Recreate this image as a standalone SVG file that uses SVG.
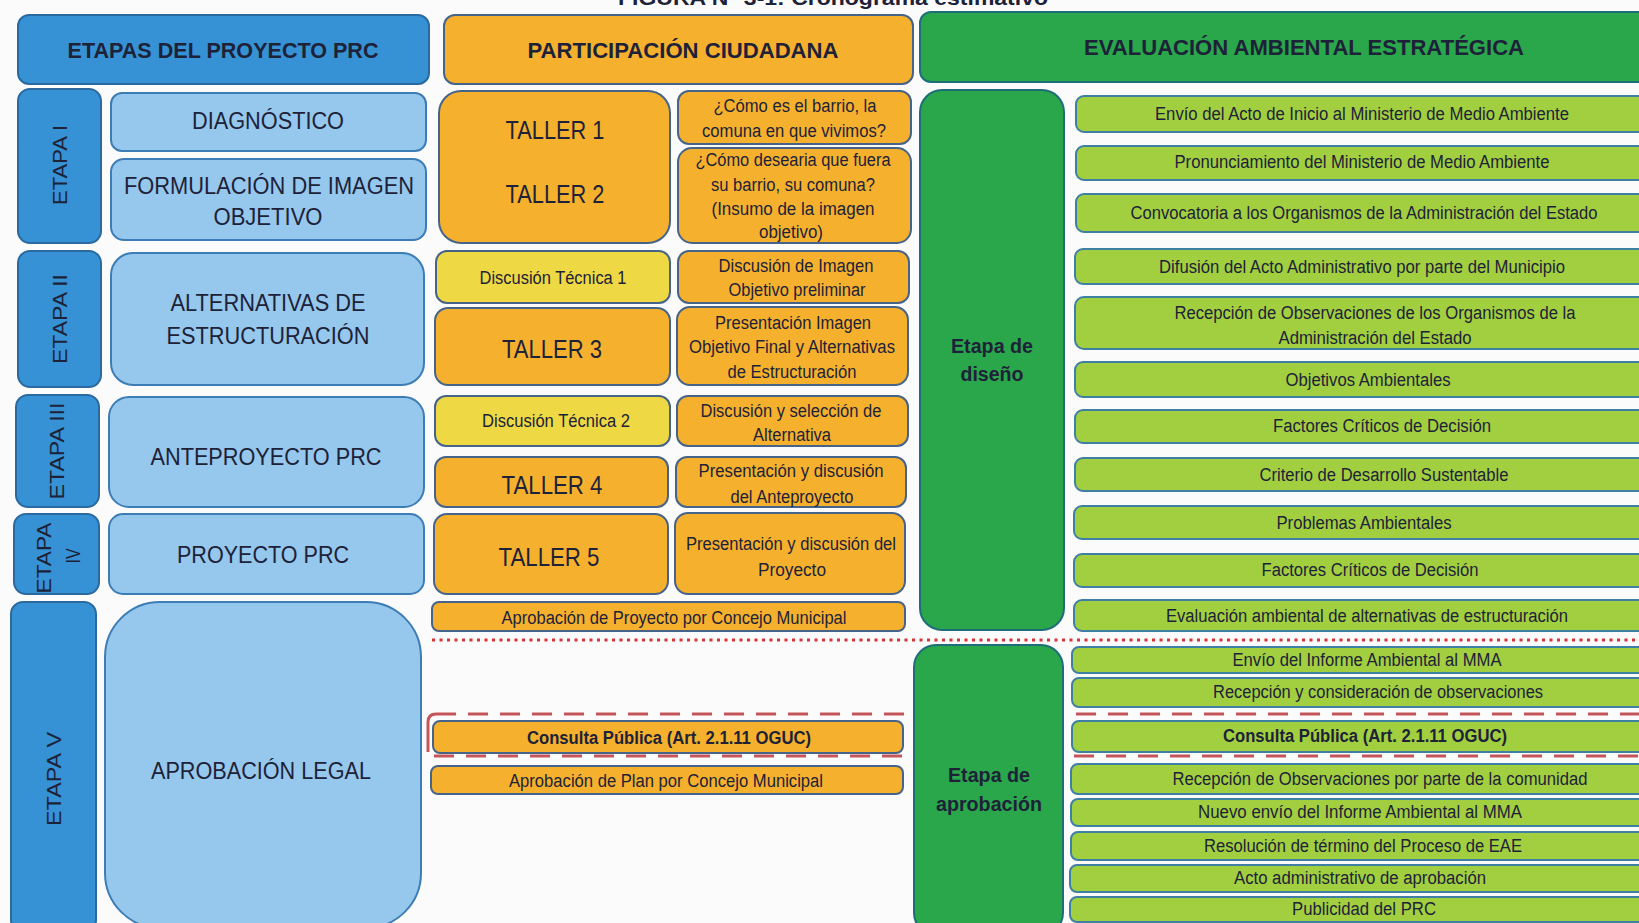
<svg xmlns="http://www.w3.org/2000/svg" width="1639" height="923" viewBox="0 0 1639 923">
<style>
.bg{fill:#fbfbfb}
.hb{fill:#3692d4;stroke:#2b6aa0;stroke-width:2}
.et{fill:#3692d4;stroke:#2b6aa0;stroke-width:2}
.lb{fill:#96c7ec;stroke:#3d7db6;stroke-width:2}
.or{fill:#f5b12d;stroke:#46648a;stroke-width:2}
.ye{fill:#eed944;stroke:#46648a;stroke-width:2}
.gr{fill:#2aa64b;stroke:#1e6e7a;stroke-width:2}
.lg{fill:#a2cf3f;stroke:#3e7fa4;stroke-width:2}
text{font-family:"Liberation Sans Narrow","Liberation Sans",Arial,sans-serif;fill:#1d2238;text-anchor:middle}
.h{font-size:22px;font-weight:bold}
.b{font-size:23px}
.tl{font-size:25px}
.s{font-size:18px}
.sb{font-size:18px;font-weight:bold}
.gb{font-size:20px;font-weight:bold}
.v{font-size:21px}
.dot{fill:none;stroke:#d3343a;stroke-width:3;stroke-dasharray:3 4.5}
.dash{fill:none;stroke:#c4565a;stroke-width:3;stroke-dasharray:20 12}
.brk{fill:none;stroke:#c4565a;stroke-width:3}
</style>
<rect class="bg" x="0" y="0" width="1639" height="923"/>
<text x="833" y="5" style="font-size:20px;font-weight:bold" textLength="430" lengthAdjust="spacingAndGlyphs">FIGURA N° 3-1: Cronograma estimativo</text>

<g id="connectors">
<line class="dot" x1="432" y1="640" x2="1639" y2="640"/>
<path class="brk" d="M428,752 L428,722 Q428,714 436,714"/>
<line class="dash" x1="436" y1="714" x2="1639" y2="714"/>
<line class="dash" x1="434" y1="756" x2="1639" y2="756"/>
</g>

<!-- Column 1 -->
<g id="hdr-etapas"><rect class="hb" x="18" y="15" width="411" height="69" rx="11"/><text class="h" x="223" y="58" textLength="311" lengthAdjust="spacingAndGlyphs">ETAPAS DEL PROYECTO PRC</text></g>
<g id="etapa1"><rect class="et" x="18" y="89" width="83" height="154" rx="12"/><text class="v" transform="translate(60,165) rotate(-90)" x="0" y="7" textLength="80" lengthAdjust="spacingAndGlyphs">ETAPA I</text></g>
<g id="diagnostico"><rect class="lb" x="111" y="93" width="315" height="58" rx="11"/><text class="b" x="268" y="129" textLength="152" lengthAdjust="spacingAndGlyphs">DIAGNÓSTICO</text></g>
<g id="formulacion"><rect class="lb" x="111" y="159" width="315" height="81" rx="13"/><text class="b" x="269" y="194" textLength="290" lengthAdjust="spacingAndGlyphs">FORMULACIÓN DE IMAGEN</text><text class="b" x="268" y="225" textLength="109" lengthAdjust="spacingAndGlyphs">OBJETIVO</text></g>
<g id="etapa2"><rect class="et" x="18" y="251" width="83" height="136" rx="12"/><text class="v" transform="translate(60,319) rotate(-90)" x="0" y="7" textLength="90" lengthAdjust="spacingAndGlyphs">ETAPA II</text></g>
<g id="alternativas"><rect class="lb" x="111" y="253" width="313" height="132" rx="22"/><text class="b" x="268" y="311" textLength="195" lengthAdjust="spacingAndGlyphs">ALTERNATIVAS DE</text><text class="b" x="268" y="344" textLength="203" lengthAdjust="spacingAndGlyphs">ESTRUCTURACIÓN</text></g>
<g id="etapa3"><rect class="et" x="16" y="395" width="83" height="112" rx="12"/><text class="v" transform="translate(57,451) rotate(-90)" x="0" y="7" textLength="97" lengthAdjust="spacingAndGlyphs">ETAPA III</text></g>
<g id="anteproyecto"><rect class="lb" x="109" y="397" width="315" height="110" rx="20"/><text class="b" x="266" y="465" textLength="231" lengthAdjust="spacingAndGlyphs">ANTEPROYECTO PRC</text></g>
<g id="etapa4"><rect class="et" x="14" y="514" width="85" height="80" rx="12"/><text class="v" transform="translate(44,558) rotate(-90)" x="0" y="7" textLength="71" lengthAdjust="spacingAndGlyphs">ETAPA</text><text class="v" transform="translate(73,556) rotate(-90)" x="0" y="7" textLength="15" lengthAdjust="spacingAndGlyphs">IV</text></g>
<g id="proyecto"><rect class="lb" x="109" y="514" width="315" height="80" rx="14"/><text class="b" x="263" y="563" textLength="172" lengthAdjust="spacingAndGlyphs">PROYECTO PRC</text></g>
<g id="etapa5"><rect class="et" x="11" y="602" width="85" height="330" rx="12"/><text class="v" transform="translate(54,779) rotate(-90)" x="0" y="7" textLength="94" lengthAdjust="spacingAndGlyphs">ETAPA V</text></g>
<g id="aprobacion-legal"><rect class="lb" x="105" y="602" width="316" height="326" rx="55"/><text class="b" x="261" y="779" textLength="220" lengthAdjust="spacingAndGlyphs">APROBACIÓN LEGAL</text></g>

<!-- Column 2 -->
<g id="hdr-participacion"><rect class="or" x="444" y="15" width="469" height="69" rx="11"/><text class="h" x="683" y="58" textLength="311" lengthAdjust="spacingAndGlyphs">PARTICIPACIÓN CIUDADANA</text></g>
<g id="taller12"><rect class="or" x="439" y="91" width="231" height="152" rx="22"/><text class="tl" x="555" y="139" textLength="99" lengthAdjust="spacingAndGlyphs">TALLER 1</text><text class="tl" x="555" y="203" textLength="99" lengthAdjust="spacingAndGlyphs">TALLER 2</text></g>
<g id="como-es"><rect class="or" x="678" y="91" width="233" height="53" rx="11"/><text class="s" x="795" y="112" textLength="163" lengthAdjust="spacingAndGlyphs">¿Cómo es el barrio, la</text><text class="s" x="794" y="137" textLength="184" lengthAdjust="spacingAndGlyphs">comuna en que vivimos?</text></g>
<g id="como-desearia"><rect class="or" x="678" y="148" width="233" height="95" rx="14"/><text class="s" x="793" y="166" textLength="195" lengthAdjust="spacingAndGlyphs">¿Cómo desearia que fuera</text><text class="s" x="793" y="191" textLength="164" lengthAdjust="spacingAndGlyphs">su barrio, su comuna?</text><text class="s" x="793" y="215" textLength="163" lengthAdjust="spacingAndGlyphs">(Insumo de  la imagen</text><text class="s" x="791" y="238" textLength="64" lengthAdjust="spacingAndGlyphs">objetivo)</text></g>
<g id="disc-tec1"><rect class="ye" x="436" y="251" width="234" height="52" rx="11"/><text class="s" x="553" y="284" textLength="147" lengthAdjust="spacingAndGlyphs">Discusión Técnica 1</text></g>
<g id="disc-imagen"><rect class="or" x="678" y="251" width="231" height="52" rx="11"/><text class="s" x="796" y="272" textLength="155" lengthAdjust="spacingAndGlyphs">Discusión de Imagen</text><text class="s" x="797" y="296" textLength="137" lengthAdjust="spacingAndGlyphs">Objetivo preliminar</text></g>
<g id="taller3"><rect class="or" x="435" y="308" width="235" height="77" rx="13"/><text class="tl" x="552" y="358" textLength="100" lengthAdjust="spacingAndGlyphs">TALLER 3</text></g>
<g id="presentacion-imagen"><rect class="or" x="677" y="307" width="231" height="78" rx="13"/><text class="s" x="793" y="329" textLength="156" lengthAdjust="spacingAndGlyphs">Presentación Imagen</text><text class="s" x="792" y="353" textLength="206" lengthAdjust="spacingAndGlyphs">Objetivo Final y Alternativas</text><text class="s" x="792" y="378" textLength="129" lengthAdjust="spacingAndGlyphs">de Estructuración</text></g>
<g id="disc-tec2"><rect class="ye" x="435" y="396" width="235" height="50" rx="11"/><text class="s" x="556" y="427" textLength="148" lengthAdjust="spacingAndGlyphs">Discusión Técnica 2</text></g>
<g id="disc-seleccion"><rect class="or" x="677" y="396" width="231" height="50" rx="11"/><text class="s" x="791" y="417" textLength="181" lengthAdjust="spacingAndGlyphs">Discusión y selección de</text><text class="s" x="792" y="441" textLength="78" lengthAdjust="spacingAndGlyphs">Alternativa</text></g>
<g id="taller4"><rect class="or" x="435" y="457" width="233" height="50" rx="11"/><text class="tl" x="552" y="494" textLength="101" lengthAdjust="spacingAndGlyphs">TALLER 4</text></g>
<g id="pres-anteproyecto"><rect class="or" x="676" y="457" width="230" height="50" rx="11"/><text class="s" x="791" y="477" textLength="185" lengthAdjust="spacingAndGlyphs">Presentación y discusión</text><text class="s" x="792" y="503" textLength="123" lengthAdjust="spacingAndGlyphs">del Anteproyecto</text></g>
<g id="taller5"><rect class="or" x="434" y="514" width="234" height="80" rx="13"/><text class="tl" x="549" y="566" textLength="101" lengthAdjust="spacingAndGlyphs">TALLER 5</text></g>
<g id="pres-proyecto"><rect class="or" x="675" y="513" width="230" height="81" rx="13"/><text class="s" x="791" y="550" textLength="210" lengthAdjust="spacingAndGlyphs">Presentación y discusión del</text><text class="s" x="792" y="576" textLength="68" lengthAdjust="spacingAndGlyphs">Proyecto</text></g>
<g id="aprob-proyecto"><rect class="or" x="432" y="602" width="473" height="29" rx="7"/><text class="s" x="674" y="624" textLength="345" lengthAdjust="spacingAndGlyphs">Aprobación de Proyecto por Concejo Municipal</text></g>
<g id="consulta-pc"><rect class="or" x="433" y="721" width="470" height="32" rx="7"/><text class="sb" x="669" y="744" textLength="284" lengthAdjust="spacingAndGlyphs">Consulta Pública (Art. 2.1.11 OGUC)</text></g>
<g id="aprob-plan"><rect class="or" x="431" y="766" width="472" height="28" rx="7"/><text class="s" x="666" y="787" textLength="314" lengthAdjust="spacingAndGlyphs">Aprobación de Plan por Concejo Municipal</text></g>

<!-- Column 3 -->
<g id="hdr-eae"><rect class="gr" x="920" y="12" width="740" height="70" rx="11"/><text class="h" x="1304" y="55" textLength="440" lengthAdjust="spacingAndGlyphs">EVALUACIÓN AMBIENTAL ESTRATÉGICA</text></g>
<g id="etapa-diseno"><rect class="gr" x="920" y="90" width="144" height="540" rx="22"/><text class="gb" x="992" y="353" textLength="82" lengthAdjust="spacingAndGlyphs">Etapa de</text><text class="gb" x="992" y="381" textLength="63" lengthAdjust="spacingAndGlyphs">diseño</text></g>
<g id="etapa-aprobacion"><rect class="gr" x="914" y="645" width="149" height="290" rx="22"/><text class="gb" x="989" y="782" textLength="82" lengthAdjust="spacingAndGlyphs">Etapa de</text><text class="gb" x="989" y="811" textLength="106" lengthAdjust="spacingAndGlyphs">aprobación</text></g>

<g id="r01"><rect class="lg" x="1076" y="96" width="590" height="36" rx="8"/><text class="s" x="1362" y="120" textLength="414" lengthAdjust="spacingAndGlyphs">Envío del Acto de Inicio al Ministerio de Medio Ambiente</text></g>
<g id="r02"><rect class="lg" x="1076" y="146" width="590" height="34" rx="8"/><text class="s" x="1362" y="168" textLength="375" lengthAdjust="spacingAndGlyphs">Pronunciamiento del Ministerio de Medio Ambiente</text></g>
<g id="r03"><rect class="lg" x="1076" y="194" width="590" height="38" rx="8"/><text class="s" x="1364" y="219" textLength="467" lengthAdjust="spacingAndGlyphs">Convocatoria a los Organismos de la Administración del Estado</text></g>
<g id="r04"><rect class="lg" x="1075" y="249" width="590" height="35" rx="8"/><text class="s" x="1362" y="273" textLength="406" lengthAdjust="spacingAndGlyphs">Difusión del Acto Administrativo por parte del Municipio</text></g>
<g id="r05"><rect class="lg" x="1075" y="297" width="590" height="52" rx="9"/><text class="s" x="1375" y="319" textLength="401" lengthAdjust="spacingAndGlyphs">Recepción de Observaciones de los Organismos de la</text><text class="s" x="1375" y="344" textLength="193" lengthAdjust="spacingAndGlyphs">Administración del Estado</text></g>
<g id="r06"><rect class="lg" x="1075" y="362" width="590" height="35" rx="8"/><text class="s" x="1368" y="386" textLength="165" lengthAdjust="spacingAndGlyphs">Objetivos Ambientales</text></g>
<g id="r07"><rect class="lg" x="1075" y="410" width="590" height="33" rx="8"/><text class="s" x="1382" y="432" textLength="218" lengthAdjust="spacingAndGlyphs">Factores Críticos de Decisión</text></g>
<g id="r08"><rect class="lg" x="1075" y="458" width="590" height="33" rx="8"/><text class="s" x="1384" y="481" textLength="249" lengthAdjust="spacingAndGlyphs">Criterio de Desarrollo Sustentable</text></g>
<g id="r09"><rect class="lg" x="1074" y="506" width="590" height="33" rx="8"/><text class="s" x="1364" y="529" textLength="175" lengthAdjust="spacingAndGlyphs">Problemas Ambientales</text></g>
<g id="r10"><rect class="lg" x="1074" y="554" width="590" height="33" rx="8"/><text class="s" x="1370" y="576" textLength="217" lengthAdjust="spacingAndGlyphs">Factores Críticos de Decisión</text></g>
<g id="r11"><rect class="lg" x="1074" y="600" width="590" height="31" rx="8"/><text class="s" x="1367" y="622" textLength="402" lengthAdjust="spacingAndGlyphs">Evaluación ambiental de alternativas de estructuración</text></g>
<g id="r12"><rect class="lg" x="1072" y="647" width="590" height="26" rx="7"/><text class="s" x="1367" y="666" textLength="269" lengthAdjust="spacingAndGlyphs">Envío del Informe Ambiental al MMA</text></g>
<g id="r13"><rect class="lg" x="1072" y="678" width="590" height="29" rx="7"/><text class="s" x="1378" y="698" textLength="330" lengthAdjust="spacingAndGlyphs">Recepción y consideración de observaciones</text></g>
<g id="r14"><rect class="lg" x="1072" y="721" width="590" height="31" rx="7"/><text class="sb" x="1365" y="742" textLength="284" lengthAdjust="spacingAndGlyphs">Consulta Pública (Art. 2.1.11 OGUC)</text></g>
<g id="r15"><rect class="lg" x="1071" y="764" width="590" height="30" rx="7"/><text class="s" x="1380" y="785" textLength="415" lengthAdjust="spacingAndGlyphs">Recepción de Observaciones por parte de la comunidad</text></g>
<g id="r16"><rect class="lg" x="1071" y="799" width="590" height="27" rx="7"/><text class="s" x="1360" y="818" textLength="324" lengthAdjust="spacingAndGlyphs">Nuevo envío del Informe Ambiental al MMA</text></g>
<g id="r17"><rect class="lg" x="1071" y="832" width="590" height="28" rx="7"/><text class="s" x="1363" y="852" textLength="318" lengthAdjust="spacingAndGlyphs">Resolución de término del Proceso de EAE</text></g>
<g id="r18"><rect class="lg" x="1070" y="865" width="590" height="27" rx="7"/><text class="s" x="1360" y="884" textLength="252" lengthAdjust="spacingAndGlyphs">Acto administrativo de aprobación</text></g>
<g id="r19"><rect class="lg" x="1070" y="897" width="590" height="25" rx="7"/><text class="s" x="1364" y="915" textLength="144" lengthAdjust="spacingAndGlyphs">Publicidad del PRC</text></g>
</svg>
